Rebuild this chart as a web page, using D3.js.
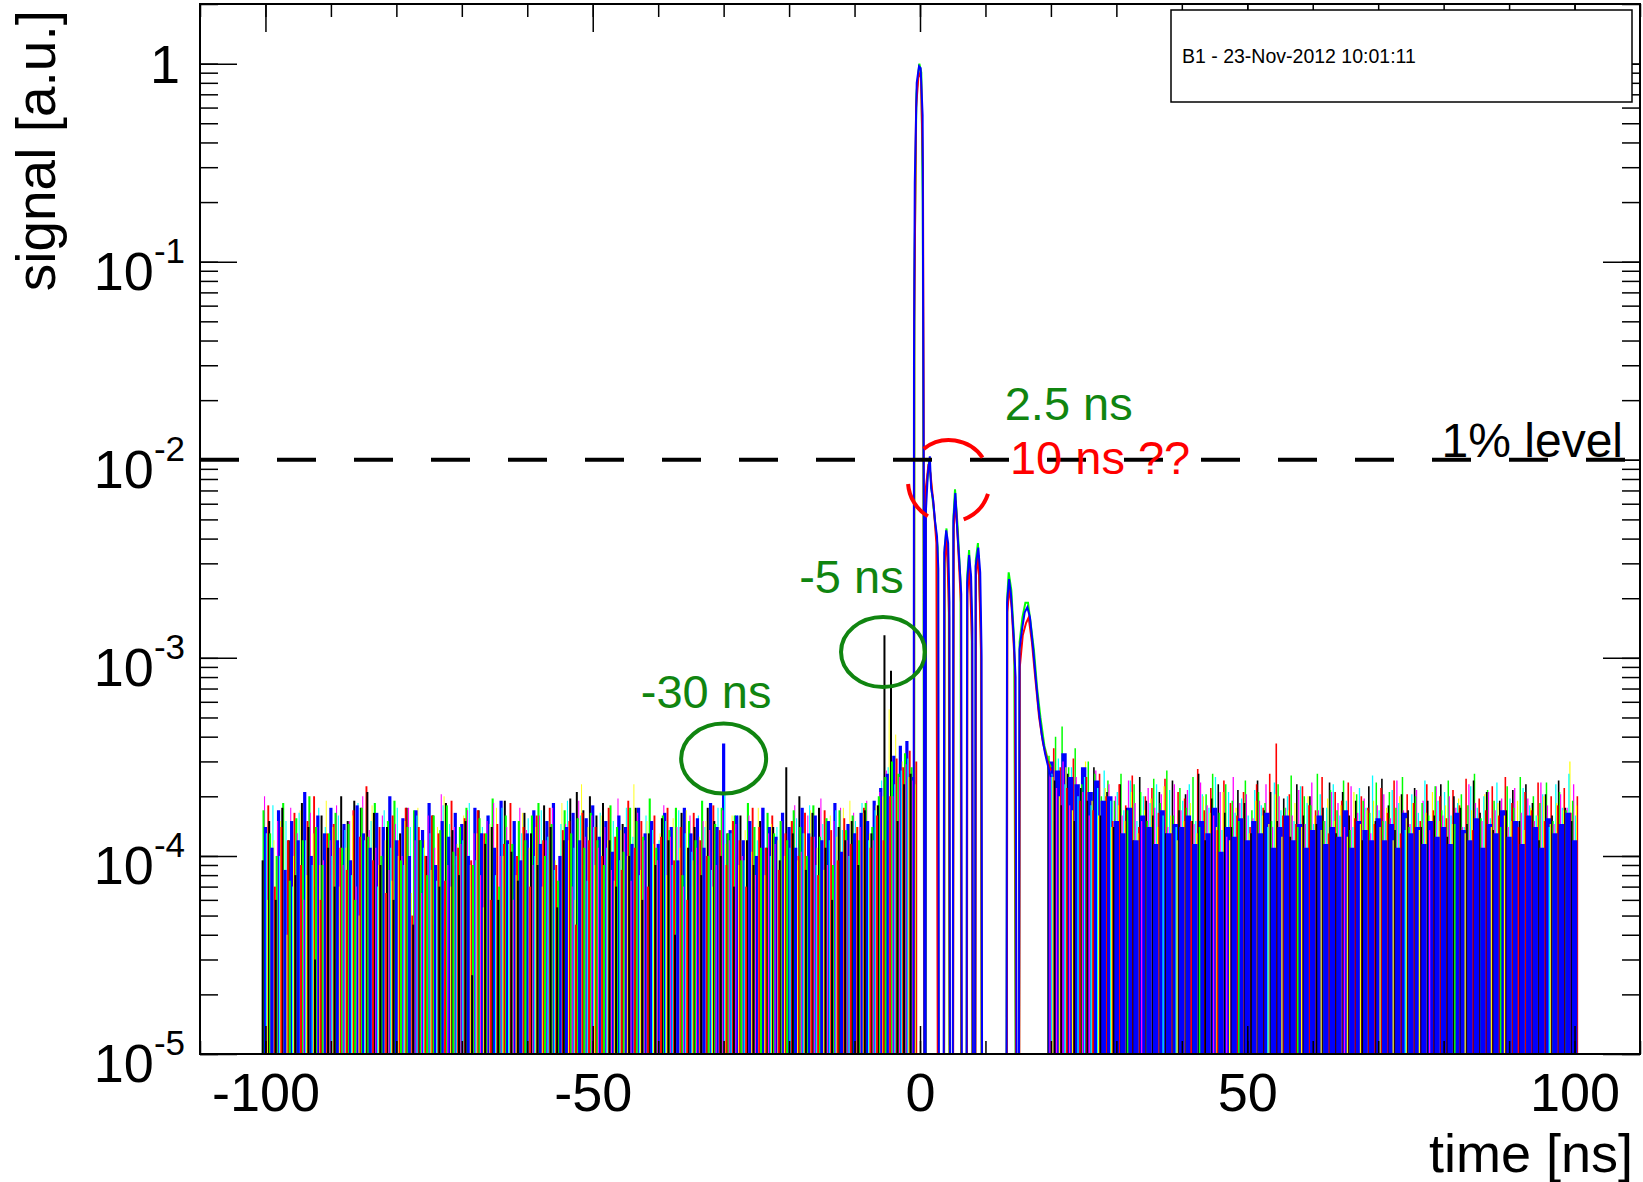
<!DOCTYPE html>
<html>
<head>
<meta charset="utf-8">
<script src="https://cdn.jsdelivr.net/npm/d3@7"></script>
<style>
  body { margin: 0; background: #fff; }
  svg text { font-family: "Liberation Sans", Arial, Helvetica, sans-serif; }
</style>
</head>
<body>
<div class="graph"></div>
<script>
// sampled noise records: one value per ns, units of 1e-6 (a.u.)
var tLeftStart = -100;   // first sample before the pulse [ns]
var tRightStart = 20;    // first sample after the pulse [ns]
var step = 1;            // sampling step [ns]

var traceNames = ["yellow", "magenta", "cyan", "black", "red", "green", "blue"];
var traceColors = ["#ffff00", "#ff00ff", "#00ffff", "#000000", "#ff0000", "#00ff00", "#0000ff"];
var traceShift = [0.29, -0.14, 0.14, -0.43, 0.43, -0.29, 0];   // trigger offset of each record [ns]

var yellowL = [60,120,150,40,100,170,80,130,90,190, 140,70,110,160,50,130,180,90,120,75,
  100,150,65,175,120,85,140,200,70,115, 160,90,130,55,145,175,100,120,80,165,
  110,140,70,150,95,185,120,60,230,140, 90,160,120,75,135,100,230,85,150,115,
  130,80,155,110,170,95,125,150,70,140, 115,160,90,135,105,175,80,145,120,100,
  150,95,130,170,110,85,160,125,175,190, 140,165,130,180,200,550,410,300,250,230];
var magentaL = [200,110,150,85,175,130,60,165,140,95, 120,180,90,150,70,200,135,110,160,85,
  145,100,175,120,65,160,110,205,90,140, 115,170,130,80,150,185,100,140,60,175,
  135,90,160,120,175,100,145,70,190,125, 160,110,140,85,195,130,75,165,120,150,
  95,180,125,140,70,160,110,150,135,90, 170,120,145,100,160,80,175,130,115,150,
  140,180,105,160,125,195,90,150,175,120, 165,140,190,120,210,270,200,250,290,240];
var cyanL = [130,180,100,150,70,165,120,90,175,140, 100,160,135,80,185,120,150,70,170,110,
  175,90,140,160,110,130,75,180,145,100, 120,185,95,140,160,80,175,115,150,130,
  155,100,170,125,85,145,190,110,160,75, 140,165,110,150,95,175,125,80,160,135,
  120,150,90,170,130,105,160,140,85,175, 210,130,160,95,150,120,175,100,140,165,
  110,155,130,180,90,145,120,170,135,100, 150,185,120,170,240,280,230,270,310,260];
var blackL = [95,150,60,175,120,80,185,140,30,160, 110,70,200,150,190,175,210,165,90,140,
  60,130,175,45,120,100,160,70,185,135, 80,150,25,170,115,140,60,190,105,75,
  165,130,90,180,140,55,120,195,210,170, 200,160,185,120,70,145,100,175,60,130,
  90,155,120,40,165,110,140,80,175,150, 100,130,70,160,120,90,150,110,140,95,
  280,130,200,85,165,175,110,60,140,120, 150,90,170,130,180,1300,860,150,230,260];
var redL = [180,70,140,120,165,90,150,200,60,130, 145,110,85,170,125,225,95,140,65,160,
  120,175,50,140,100,160,130,75,190,110, 155,95,170,130,60,145,115,185,100,140,
  70,160,120,175,90,135,150,45,165,120, 140,100,175,125,85,190,110,150,70,160,
  125,175,95,140,60,165,120,100,180,135, 90,150,120,70,175,140,110,160,85,130,
  150,100,165,125,80,170,135,95,155,115, 140,175,110,160,120,200,310,280,340,300];
var greenL = [170,130,100,185,75,155,120,200,140,90, 130,165,110,145,60,175,125,185,100,150,
  190,95,140,170,120,80,160,135,180,105, 140,175,90,155,130,195,70,160,115,150,
  120,160,185,100,145,75,170,130,155,110, 165,120,90,180,140,105,175,150,125,195,
  110,160,135,175,80,150,120,190,100,145, 175,130,160,95,185,140,110,165,130,150,
  120,170,140,100,180,125,155,90,170,135, 160,120,185,140,200,250,300,260,330,280];
var blueL = [140,110,170,85,150,120,210,100,160,130, 175,120,145,95,180,130,110,165,140,200,
  120,155,100,170,135,185,90,150,125,165, 145,100,175,130,160,110,190,120,150,95,
  130,170,115,150,185,100,140,165,120,155, 180,125,150,105,160,140,115,175,130,150,
  115,165,140,95,175,130,155,110,185,140, 370,135,160,120,150,100,175,140,125,165,
  140,110,175,130,160,120,150,185,105,145, 130,165,150,190,220,260,320,360,380,250];

var yellowR = [250,200,280,170,230,300,190,160,220,140, 180,150,210,130,170,195,140,225,160,120,
  150,185,130,200,165,140,210,120,175,155, 130,190,160,145,205,125,170,185,140,200,
  160,135,195,150,180,125,210,145,170,190, 140,175,120,200,155,185,135,165,210,150,
  180,145,195,130,170,155,205,140,185,160, 150,190,135,175,160,200,145,185,170,300, 180];
var magentaR = [280,220,300,180,250,210,160,270,190,230, 200,160,240,185,150,220,175,205,140,230,
  170,215,145,235,180,160,210,125,250,185, 205,155,190,230,140,200,175,160,215,145,
  235,170,150,210,185,140,225,165,195,130, 180,205,155,240,170,145,215,190,135,225,
  160,200,175,140,230,185,150,210,170,195, 140,220,165,195,150,235,180,145,205,175, 230];
var cyanR = [260,310,230,280,200,250,180,220,270,190, 210,170,240,150,200,185,230,160,215,140,
  190,230,150,205,175,250,135,210,165,195, 160,215,180,140,235,170,200,150,225,185,
  145,205,175,230,160,190,140,220,175,255, 170,150,215,185,135,205,165,240,150,190,
  210,160,185,140,225,175,200,155,235,170, 195,150,220,180,160,205,140,230,175,260, 160];
var blackR = [300,240,180,260,150,220,190,280,160,210, 140,230,175,120,250,190,160,210,130,240,
  170,205,150,260,120,195,230,165,140,215, 185,130,240,170,210,150,195,125,230,160,
  200,145,175,235,130,210,160,190,120,225, 150,245,180,135,205,170,220,140,190,160,
  230,125,200,175,145,240,165,210,135,190, 170,215,150,230,185,120,205,160,240,175, 150];
var redR = [350,280,220,310,190,250,170,260,200,150, 230,180,255,140,200,220,165,245,130,210,
  195,150,275,170,220,135,240,185,160,210, 140,230,175,260,370,160,205,145,225,180,
  170,250,130,210,190,235,155,200,175,145, 220,165,240,130,205,185,150,230,170,200,
  155,215,180,245,135,195,170,225,160,250, 185,140,210,170,235,150,200,180,220,165, 200];
var greenR = [320,400,450,280,350,230,300,260,200,240, 190,260,170,230,210,150,245,185,270,160,
  220,175,250,140,205,260,165,230,190,150, 240,170,210,185,150,230,175,255,140,200,
  180,260,150,215,170,240,135,205,190,165, 235,150,210,175,250,140,200,185,160,225,
  170,240,145,205,180,260,155,215,190,140, 225,175,250,160,200,185,235,150,210,170, 190];
var blueR = [300,270,330,250,230,280,210,240,190,200, 150,130,175,120,160,140,115,170,130,145,
  140,160,115,150,130,175,105,140,125,155, 120,150,130,165,110,140,160,120,145,110,
  135,160,115,140,125,170,110,150,135,120, 155,120,145,110,165,130,140,115,150,125,
  140,115,165,135,120,155,110,145,130,170, 125,150,115,160,140,110,155,130,145,165, 120];

var leftRecords = [yellowL, magentaL, cyanL, blackL, redL, greenL, blueL];
var rightRecords = [yellowR, magentaR, cyanR, blackR, redR, greenR, blueR];

// the pulse itself, [time ns, signal a.u.], 0 = below the axis
var pulseGreen = [[-0.9,0],[-0.85,0.08],[-0.55,0.7],[-0.1,1.0],[0.2,0.9],[0.42,0.2],[0.52,0.01],[0.65,0],
  [0.88,0],[0.92,0.0068],[1.4,0.01],[1.8,0.0069],[2.2,0.0052],[2.7,0.0036],[2.85,0],
  [3.68,0],[3.78,0.0036],[4.05,0.0045],[4.4,0.0022],[4.52,0],
  [5.02,0],[5.12,0.0052],[5.35,0.0071],[5.75,0.0046],[6.2,0.0024],[6.3,0],
  [7.12,0],[7.22,0.0026],[7.5,0.0035],[7.9,0.0017],[8.02,0],
  [8.42,0],[8.52,0.0031],[8.85,0.0038],[9.3,0.0014],[9.42,0],
  [13.22,0],[13.32,0.002],[13.55,0.0027],[13.95,0.0022],[14.4,0.0012],[14.65,0],
  [15.12,0],[15.22,0.0012],[15.65,0.0016],[16.1,0.0019],[16.5,0.0019],[16.9,0.0015],[17.4,0.0011],
  [17.9,0.0007],[18.4,0.0005],[19.0,0.00036],[19.6,0.0003],[20,0.00028]];
var pulseRed = [[-0.95,0],[-0.88,0.05],[-0.6,0.6],[-0.2,0.9],[0.15,0.85],[0.45,0.3],[0.55,0.02],[0.7,0],
  [0.8,0],[0.85,0.007],[1.3,0.0095],[1.6,0.0085],[2.1,0.0058],[2.5,0.0038],[2.75,0],
  [3.65,0],[3.75,0.003],[4.1,0.0041],[4.45,0.0016],[4.55,0],
  [5.05,0],[5.15,0.0045],[5.45,0.0062],[5.8,0.0038],[6.25,0.0019],[6.35,0],
  [7.15,0],[7.25,0.0021],[7.55,0.003],[7.95,0.0012],[8.05,0],
  [8.45,0],[8.55,0.0026],[8.95,0.0033],[9.35,0.001],[9.45,0],
  [13.25,0],[13.35,0.0017],[13.65,0.0023],[14.0,0.0018],[14.5,0.0009],[14.7,0],
  [15.15,0],[15.25,0.0009],[15.7,0.0013],[16.2,0.0015],[16.6,0.0016],[17.1,0.0012],[17.6,0.0008],
  [18.2,0.0005],[18.8,0.00037],[19.5,0.0003],[20,0.00027]];
var pulseBlue = [[-1.0,0],[-0.92,0.03],[-0.8,0.25],[-0.5,0.8],[-0.15,0.97],[0.1,0.95],[0.4,0.55],[0.48,0.06],[0.6,0.004],[0.68,0],
  [0.85,0],[0.9,0.0055],[1.2,0.0085],[1.5,0.0104],[1.7,0.0072],[2.0,0.0063],[2.3,0.0049],[2.6,0.0041],[2.8,0.0028],[2.9,0],
  [3.6,0],[3.7,0.0034],[4.0,0.0044],[4.3,0.0038],[4.5,0.0019],[4.6,0],
  [5.0,0],[5.1,0.0049],[5.4,0.0068],[5.7,0.0044],[6.0,0.0031],[6.3,0.0021],[6.4,0],
  [7.1,0],[7.2,0.0024],[7.5,0.0033],[7.8,0.0026],[8.0,0.0014],[8.1,0],
  [8.4,0],[8.5,0.0029],[8.9,0.0036],[9.2,0.0027],[9.4,0.0011],[9.5,0],
  [13.2,0],[13.3,0.0019],[13.6,0.0025],[13.9,0.0021],[14.3,0.0013],[14.6,0.0008],[14.8,0],
  [15.1,0],[15.2,0.0011],[15.6,0.0014],[16.0,0.0017],[16.4,0.0018],[16.8,0.0016],[17.3,0.0011],
  [17.7,0.00078],[18.1,0.00056],[18.6,0.00041],[19.1,0.00033],[19.6,0.00028],[20.0,0.00025]];
var pulses = [pulseGreen, pulseRed, pulseBlue];
var pulseColors = ["#00ff00", "#ff0000", "#0000ff"];

// axes
var xMajor = [-100, -50, 0, 50, 100];
var yMajor = [1e-5, 1e-4, 1e-3, 1e-2, 1e-1, 1];
var yExponents = ["-5", "-4", "-3", "-2", "-1", ""];
var onePercent = 0.01;

// hand drawn notes (anchored in data coordinates)
var noteTexts = [
  { text: "-30 ns", t: -42.2, v: 5.6e-4, color: "#108510" },
  { text: "-5 ns", t: -18.0, v: 2.13e-3, color: "#108510" },
  { text: "2.5 ns", t: 13.4, v: 1.59e-2, color: "#108510" },
  { text: "10 ns ??", t: 14.2, v: 8.5e-3, color: "#ff0000" }
];
var noteEllipses = [
  { t: -30, v: 3.1e-4, rx: 42.5, ry: 35 },
  { t: -5.65, v: 1.07e-3, rx: 42, ry: 35 }
];
var noteCircle = { t: 4.43, v: 7.8e-3, r: 41, arcs: [[18, 69], [121, 176], [232, 325]] };

window.onload = () => {

  var width = 1643, height = 1182;
  var svg = d3.select(".graph").append("svg")
    .attr("width", width)
    .attr("height", height);

  var x = d3.scaleLinear().domain([-110, 110]).range([200, 1640]);
  var y = d3.scaleLog().domain([1e-5, 2]).range([1054, 4]);
  var yBottom = y.range()[0];

  svg.append("clipPath").attr("id", "frame")
    .append("rect")
    .attr("x", x.range()[0]).attr("y", y.range()[1])
    .attr("width", x.range()[1] - x.range()[0])
    .attr("height", y.range()[0] - y.range()[1]);

  var plot = svg.append("g").attr("clip-path", "url(#frame)");

  // stroke width of each record before / after the pulse
  var widthLeft = { yellow: 0.9, magenta: 1.1, cyan: 1.1, black: 2.0, red: 1.9, green: 2.1, blue: 3.2 };
  var widthRight = { yellow: 1.2, magenta: 1.3, cyan: 1.3, black: 1.6, red: 1.6, green: 1.5, blue: 5.4 };

  // noise: each sample is a stroke from below the axis up to its value.
  // tallest strokes go down first so the short ones show at the bottom
  var bars = [];
  function collect(records, tStart, widths) {
    records.forEach(function (rec, k) {
      rec.forEach(function (v, i) {
        bars.push({
          t: tStart + i * step + traceShift[k],
          v: v * 1e-6,
          color: traceColors[k],
          w: widths[traceNames[k]]
        });
      });
    });
  }
  collect(leftRecords, tLeftStart, widthLeft);
  collect(rightRecords, tRightStart, widthRight);
  bars.sort(function (a, b) { return b.v - a.v; });

  plot.append("g")
    .selectAll("line")
    .data(bars)
    .enter().append("line")
    .attr("x1", function (d) { return x(d.t); })
    .attr("x2", function (d) { return x(d.t); })
    .attr("y1", yBottom + 2)
    .attr("y2", function (d) { return y(Math.max(d.v, 1e-5)); })
    .attr("stroke", function (d) { return d.color; })
    .attr("stroke-width", function (d) { return d.w; });

  var line = d3.line()
    .x(function (d) { return x(d[0]); })
    .y(function (d) { return y(Math.max(d[1], 3e-6)); });

  pulses.forEach(function (p, k) {
    plot.append("path")
      .attr("d", line(p))
      .attr("fill", "none")
      .attr("stroke", pulseColors[k])
      .attr("stroke-width", 2);
  });

  // 1% level
  svg.append("line")
    .attr("x1", x.range()[0]).attr("x2", x.range()[1])
    .attr("y1", y(onePercent)).attr("y2", y(onePercent))
    .attr("stroke", "#000")
    .attr("stroke-width", 4)
    .attr("stroke-dasharray", "39,38");

  // ticks on all four sides, ROOT style
  function ticks(axisFn, scale, shift, values, size) {
    svg.append("g").attr("transform", shift)
      .call(axisFn(scale).tickValues(values).tickSize(size).tickSizeOuter(0).tickFormat(""))
      .call(function (g) { g.select(".domain").remove(); })
      .selectAll("line").attr("stroke", "#000").attr("stroke-width", 1.5);
  }
  var xMinor = x.ticks(22);
  var yMinor = y.ticks();
  ticks(d3.axisBottom, x, "translate(0," + yBottom + ")", xMinor, -13);
  ticks(d3.axisBottom, x, "translate(0," + yBottom + ")", xMajor, -28);
  ticks(d3.axisTop, x, "translate(0," + y.range()[1] + ")", xMinor, -13);
  ticks(d3.axisTop, x, "translate(0," + y.range()[1] + ")", xMajor, -28);
  ticks(d3.axisLeft, y, "translate(" + x.range()[0] + ",0)", yMinor, -18);
  ticks(d3.axisLeft, y, "translate(" + x.range()[0] + ",0)", yMajor, -37);
  ticks(d3.axisRight, y, "translate(" + x.range()[1] + ",0)", yMinor, -18);
  ticks(d3.axisRight, y, "translate(" + x.range()[1] + ",0)", yMajor, -37);

  // x labels (plain hyphen like ROOT)
  svg.append("g").attr("transform", "translate(0," + yBottom + ")")
    .call(d3.axisBottom(x).tickValues(xMajor).tickSize(0).tickPadding(19)
      .tickFormat(function (d) { return String(d); }))
    .call(function (g) { g.select(".domain").remove(); })
    .selectAll("text")
    .attr("font-size", 54)
    .attr("font-family", "Liberation Sans, Arial, sans-serif")
    .attr("fill", "#000");

  // y labels with exponents
  yMajor.forEach(function (v, i) {
    var t = svg.append("text")
      .attr("text-anchor", "end")
      .attr("fill", "#000");
    if (yExponents[i] == "") {
      t.attr("x", 180).attr("y", y(v) + 19).attr("font-size", 54).text("1");
    } else {
      t.attr("x", 185).attr("y", y(v) + 28);
      t.append("tspan").attr("font-size", 54).text("10");
      t.append("tspan").attr("font-size", 35).attr("dy", -27).text(yExponents[i]);
    }
  });

  // axis titles
  svg.append("text")
    .attr("text-anchor", "end")
    .attr("transform", "translate(55,10) rotate(-90)")
    .attr("font-size", 55)
    .text("signal [a.u.]");

  svg.append("text")
    .attr("text-anchor", "end")
    .attr("x", 1633).attr("y", 1172)
    .attr("font-size", 54)
    .text("time [ns]");

  // notes
  svg.selectAll(".note")
    .data(noteTexts)
    .enter().append("text")
    .attr("class", "note")
    .attr("x", function (d) { return x(d.t) - 3; })
    .attr("y", function (d) { return y(d.v); })
    .attr("font-size", 47)
    .attr("fill", function (d) { return d.color; })
    .text(function (d) { return d.text; });

  svg.selectAll(".ring")
    .data(noteEllipses)
    .enter().append("ellipse")
    .attr("class", "ring")
    .attr("cx", function (d) { return x(d.t); })
    .attr("cy", function (d) { return y(d.v); })
    .attr("rx", function (d) { return d.rx; })
    .attr("ry", function (d) { return d.ry; })
    .attr("fill", "none")
    .attr("stroke", "#108510")
    .attr("stroke-width", 4);

  var cx = x(noteCircle.t), cy = y(noteCircle.v);
  noteCircle.arcs.forEach(function (a) {
    var p = d3.path();
    var a0 = a[0] * Math.PI / 180, a1 = a[1] * Math.PI / 180;
    p.moveTo(cx + noteCircle.r * Math.cos(a0), cy + noteCircle.r * Math.sin(a0));
    p.arc(cx, cy, noteCircle.r, a0, a1);
    svg.append("path")
      .attr("d", p.toString())
      .attr("fill", "none")
      .attr("stroke", "#ff0000")
      .attr("stroke-width", 4);
  });

  svg.append("text")
    .attr("text-anchor", "end")
    .attr("x", 1623).attr("y", y(1.035e-2))
    .attr("font-size", 48)
    .text("1% level");

  // frame
  svg.append("rect")
    .attr("x", x.range()[0]).attr("y", y.range()[1])
    .attr("width", x.range()[1] - x.range()[0])
    .attr("height", y.range()[0] - y.range()[1])
    .attr("fill", "none")
    .attr("stroke", "#000")
    .attr("stroke-width", 2);

  // run label box
  svg.append("rect")
    .attr("x", 1171).attr("y", 10)
    .attr("width", 461).attr("height", 92)
    .attr("fill", "#fff")
    .attr("stroke", "#000")
    .attr("stroke-width", 1.5);

  svg.append("text")
    .attr("x", 1182).attr("y", 63)
    .attr("font-size", 19.5)
    .text("B1 - 23-Nov-2012 10:01:11");

};
</script>
</body>
</html>
